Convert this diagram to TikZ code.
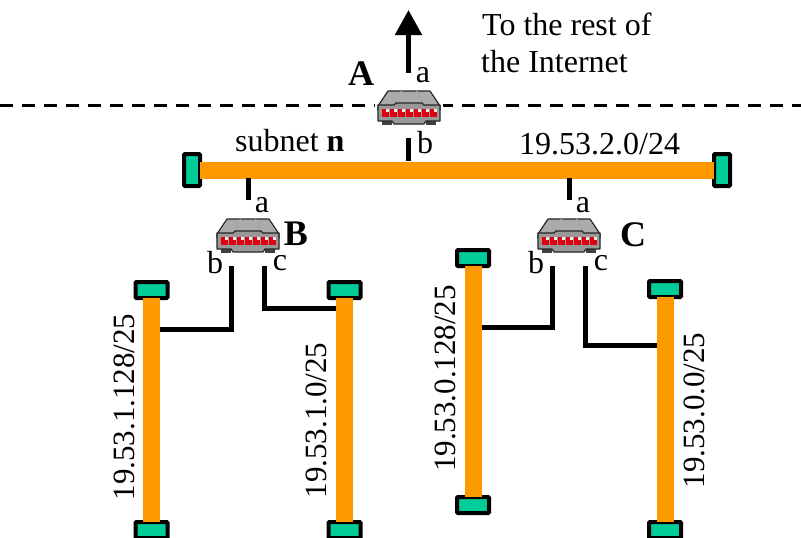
\documentclass[tikz,border=0pt]{standalone}
\usepackage{fontspec}
\setmainfont{Liberation Serif}
\usetikzlibrary{arrows.meta}
\definecolor{segorange}{HTML}{FF9900}
\definecolor{capgreen}{HTML}{00CC99}
\definecolor{bodygray}{HTML}{999999}
\definecolor{topgray}{HTML}{ABABAB}
\definecolor{ledred}{HTML}{E00010}
\tikzset{
  x=1pt,y=-1pt,
  lbl/.style={font=\fontsize{32}{36}\selectfont,inner sep=0pt,text=black},
  lblv/.style={font=\fontsize{31}{36}\selectfont,inner sep=0pt,text=black,rotate=90},
  lblb/.style={font=\fontsize{36}{40}\selectfont\bfseries,inner sep=0pt,text=black},
  segbar/.style={line width=17pt,draw=segorange},
  capv/.style={draw=black,line width=4pt,fill=capgreen,rounded corners=1pt,minimum width=16pt,minimum height=32pt,inner sep=0pt,outer sep=0pt},
  caph/.style={draw=black,line width=4pt,fill=capgreen,rounded corners=1pt,minimum width=32pt,minimum height=16pt,inner sep=0pt,outer sep=0pt},
  wire/.style={line width=5pt,draw=black},
  rtbox/.style={minimum width=62pt,minimum height=34pt,inner sep=0pt,outer sep=0pt},
  router/.pic={
    \fill[black!75] (-27,13) rectangle (-17,17.5);
    \fill[black!75] (17,13) rectangle (27,17.5);
    \draw[black!85,line width=1.2pt,fill=topgray,line join=round] (-31,-1) -- (-21,-16) -- (21,-16) -- (31,-1) -- (31,3) -- (-31,3) -- cycle;
    \draw[black!35,line width=.8pt] (-14,-4) -- (-10,-14) -- (-7,-16);
    \draw[black!35,line width=.8pt] (14,-4) -- (10,-14) -- (7,-16);
    \draw[black!85,line width=1.2pt,fill=bodygray,line join=round] (-31,-2) -- (-15,-2) -- (-13,-4) -- (13,-4) -- (15,-2) -- (31,-2) -- (31,14) -- (17,14) -- (15,17) -- (-15,17) -- (-17,14) -- (-31,14) -- cycle;
    \foreach \i in {0,...,6}{
      \fill[ledred] (-27.5+8*\i,2) rectangle ++(7,7.5);
      \fill[white!85!gray] (-23.5+8*\i,2) rectangle ++(3,3);
    }
  }
}
\begin{document}
\begin{tikzpicture}
\useasboundingbox (0,0) rectangle (801,538);
\fill[white] (0,0) rectangle (801,538);

% dashed boundary
\coordinate (dl) at (0,105);
\coordinate (dr) at (801,105);
\draw[black,line width=3pt,dash pattern=on 13pt off 9pt] (dl) -- (dr);

% router boxes (anchors for connectors)
\node[rtbox] (ra) at (409,107) {};
\node[rtbox] (rb) at (248,235) {};
\node[rtbox] (rc) at (569,235) {};
\fill[white] (375,92) rectangle (443,122);
\pic at (ra) {router};
\pic at (rb) {router};
\pic at (rc) {router};

% main segment and caps
\node[capv] (n1) at (192,170) {};
\node[capv] (n2) at (722,170) {};
\draw[segbar] (n1.east) -- (n2.west);

% vertical segments
\node[caph] (b1t) at (151.5,290) {};
\node[caph] (b1b) at (151.5,530) {};
\node[caph] (b2t) at (344.5,290) {};
\node[caph] (b2b) at (344.5,530) {};
\node[caph] (c1t) at (473,258) {};
\node[caph] (c1b) at (473,505) {};
\node[caph] (c2t) at (665,289) {};
\node[caph] (c2b) at (665,530) {};
\draw[segbar] (b1t.south) -- (b1b.north);
\draw[segbar] (b2t.south) -- (b2b.north);
\draw[segbar] (c1t.south) -- (c1b.north);
\draw[segbar] (c2t.south) -- (c2b.north);

% connectors
\coordinate (up) at (408.5,10);
\coordinate (as) at (408.5,73);
\draw[wire,-{Triangle[length=25pt,width=26pt]}] (as) -- (up);
\coordinate (ab) at (408.5,138);
\draw[wire] (ab) -- (408.5,161);
\coordinate (ba) at (248,200);
\draw[wire] (248,178) -- (ba);
\coordinate (ca) at (569,200);
\draw[wire] (569,178) -- (ca);

\coordinate (bb) at (231.5,266);
\coordinate (bc) at (264.5,266);
\coordinate (cb) at (552.5,266);
\coordinate (cc) at (585,266);
\draw[wire] (bb) -- (231.5,329.5) -- (160,329.5);
\draw[wire] (bc) -- (264.5,308.5) -- (336,308.5);
\draw[wire] (cb) -- (552.5,327) -- (481.5,327);
\draw[wire] (cc) -- (585,345) -- (656.5,345);

% labels
\node[lbl,anchor=west] (t1) at (482,24) {To the rest of};
\node[lbl,anchor=west] (t2) at (481,62) {the Internet};
\node[lblb] (la) at (361,74) {A};
\node[lblb] (lb) at (296,234) {B};
\node[lblb] (lc) at (633,235) {C};
\node[lbl] (a1) at (423,75) {a};
\node[lbl] (a2) at (425,143) {b};
\node[lbl] (a3) at (262,205) {a};
\node[lbl] (a4) at (215,263) {b};
\node[lbl] (a5) at (280,263) {c};
\node[lbl] (a6) at (583,205) {a};
\node[lbl] (a7) at (536,263) {b};
\node[lbl] (a8) at (601,263) {c};
\node[lbl,anchor=west] (sn) at (235,141) {subnet \textbf{n}};
\node[lbl,anchor=west] (net) at (519,144) {19.53.2.0/24};
\node[lblv] (v1) at (124,407) {19.53.1.128/25};
\node[lblv] (v2) at (316.5,420.5) {19.53.1.0/25};
\node[lblv] (v3) at (445,378.5) {19.53.0.128/25};
\node[lblv] (v4) at (694.5,410.5) {19.53.0.0/25};
\end{tikzpicture}
\end{document}
